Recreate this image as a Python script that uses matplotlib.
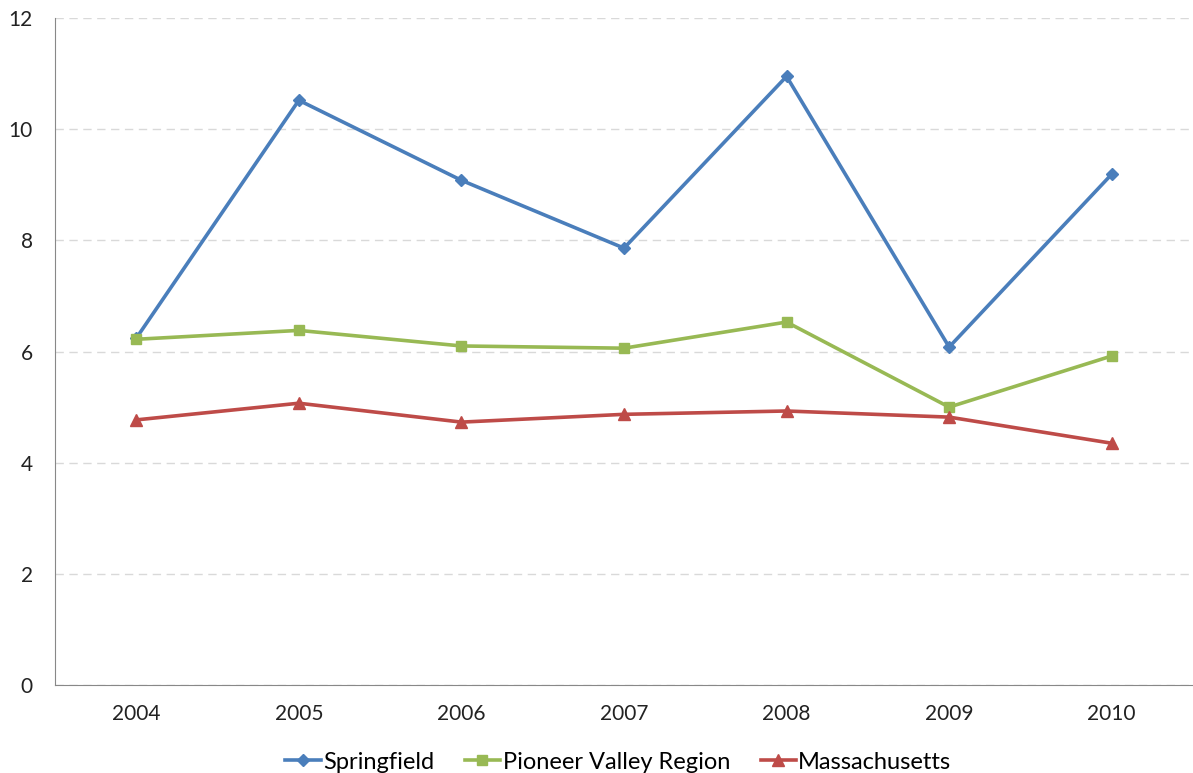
import numpy as np
import matplotlib
matplotlib.use("Agg")
import matplotlib.pyplot as plt

years = ["2004", "2005", "2006", "2007", "2008", "2009", "2010"]
springfield = [6.24, 10.52, 9.08, 7.86, 10.95, 6.08, 9.19]
pioneer = [6.22, 6.38, 6.10, 6.06, 6.53, 5.00, 5.92]
massachusetts = [4.77, 5.07, 4.73, 4.87, 4.93, 4.82, 4.35]

plt.rcParams['font.family'] = ['Lato', 'DejaVu Sans']

fig = plt.figure(figsize=(11.93, 7.73), dpi=100)
ax = fig.add_axes([0.0461, 0.1138, 0.9539, 0.8629])

x = np.arange(len(years))
ax.plot(x, springfield, color='#4A7EBB', lw=2.6, marker='D', ms=6.5, label='Springfield')
ax.plot(x, pioneer, color='#98B954', lw=2.6, marker='s', ms=7.5, label='Pioneer Valley Region')
ax.plot(x, massachusetts, color='#BE4B48', lw=2.6, marker='^', ms=8.5, label='Massachusetts')

ax.set_xlim(-0.5, 6.5)
ax.set_ylim(0, 12)
ax.set_yticks(range(0, 13, 2))
ax.set_xticks(x)
ax.set_xticklabels(years)
ax.tick_params(axis='both', length=0, labelsize=15, colors='#222222')
ax.tick_params(axis='x', pad=14)
ax.tick_params(axis='y', pad=16)

ax.grid(axis='y', color='#d9d9d9', linestyle=(0, (6, 4)), lw=1)
ax.set_axisbelow(True)
for side in ['top', 'right']:
    ax.spines[side].set_visible(False)
ax.spines['left'].set_color('#888888')
ax.spines['bottom'].set_color('#888888')

ax.legend(loc='upper center', bbox_to_anchor=(0.495, -0.068), ncol=3, frameon=False,
          fontsize=17, handlelength=1.5, handletextpad=0.1, columnspacing=1.3)

fig.savefig('out.png', dpi=100)
